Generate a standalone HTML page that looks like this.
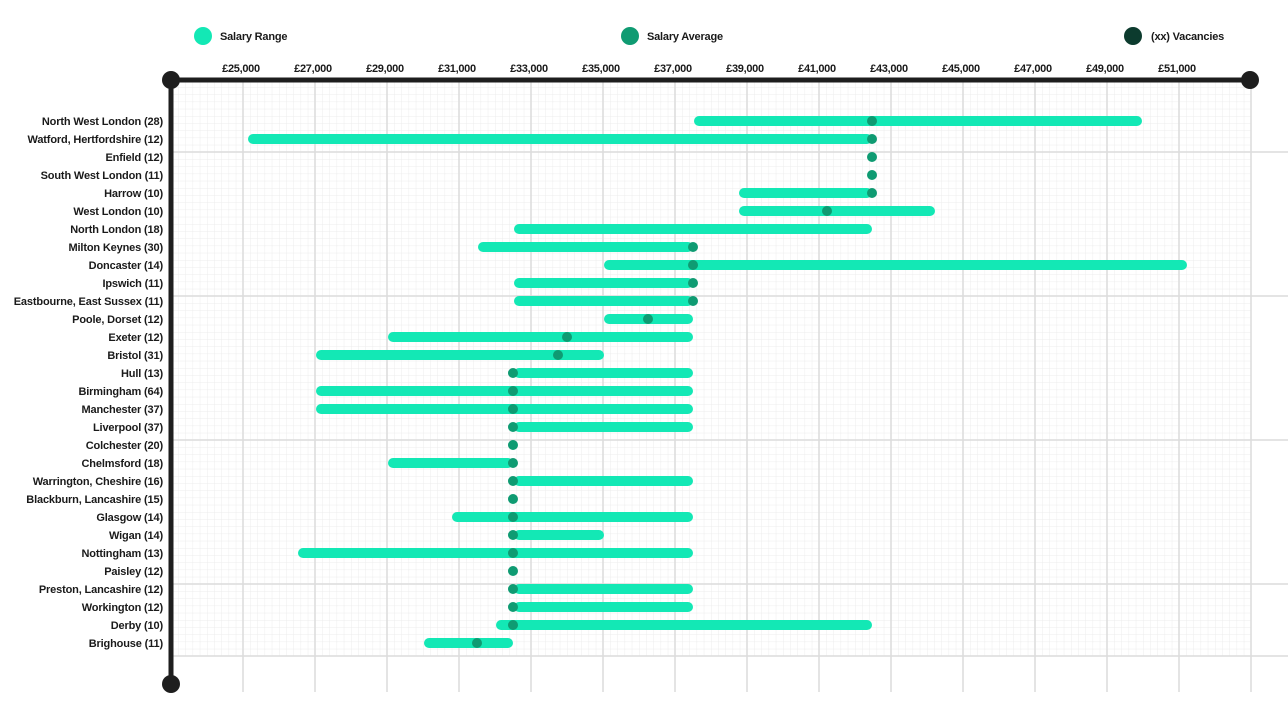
<!DOCTYPE html>
<html><head><meta charset="utf-8"><style>
html,body{margin:0;padding:0;background:#fff;}
svg{display:block;font-family:"Liberation Sans",sans-serif;}
.lab{font-size:11px;font-weight:bold;fill:#1a1a1a;text-anchor:end;letter-spacing:-0.15px;}
.tick{font-size:11px;font-weight:bold;fill:#1a1a1a;text-anchor:middle;letter-spacing:-0.3px;}
.leg{font-size:11px;font-weight:bold;fill:#1a1a1a;letter-spacing:-0.2px;}
.bar{stroke:#13e8b5;stroke-width:10;stroke-linecap:round;}
.avg{fill:#0f9b72;}
</style></head><body>
<svg width="1288" height="720" viewBox="0 0 1288 720">
<defs>
<pattern id="mg" x="171" y="80" width="7.2" height="7.2" patternUnits="userSpaceOnUse">
<path d="M0 0V7.2M0 0H7.2" stroke="#ececec" stroke-width="1" fill="none"/>
</pattern>
</defs>
<rect x="171" y="80" width="1080" height="576" fill="url(#mg)"/>
<g stroke="#dcdcdc" stroke-width="1.5">
<line x1="243" y1="80" x2="243" y2="692"/><line x1="315" y1="80" x2="315" y2="692"/><line x1="387" y1="80" x2="387" y2="692"/><line x1="459" y1="80" x2="459" y2="692"/><line x1="531" y1="80" x2="531" y2="692"/><line x1="603" y1="80" x2="603" y2="692"/><line x1="675" y1="80" x2="675" y2="692"/><line x1="747" y1="80" x2="747" y2="692"/><line x1="819" y1="80" x2="819" y2="692"/><line x1="891" y1="80" x2="891" y2="692"/><line x1="963" y1="80" x2="963" y2="692"/><line x1="1035" y1="80" x2="1035" y2="692"/><line x1="1107" y1="80" x2="1107" y2="692"/><line x1="1179" y1="80" x2="1179" y2="692"/><line x1="1251" y1="80" x2="1251" y2="692"/>
<line x1="171" y1="152" x2="1288" y2="152"/><line x1="171" y1="296" x2="1288" y2="296"/><line x1="171" y1="440" x2="1288" y2="440"/><line x1="171" y1="584" x2="1288" y2="584"/><line x1="171" y1="656" x2="1288" y2="656"/>
</g>
<line x1="171" y1="80" x2="1250" y2="80" stroke="#1e1e1e" stroke-width="5"/>
<line x1="171" y1="80" x2="171" y2="684" stroke="#1e1e1e" stroke-width="5"/>
<circle cx="171" cy="80" r="9" fill="#1e1e1e"/><circle cx="1250" cy="80" r="9" fill="#1e1e1e"/><circle cx="171" cy="684" r="9" fill="#1e1e1e"/>
<g class="tick">
<text x="241" y="72">£25,000</text><text x="313" y="72">£27,000</text><text x="385" y="72">£29,000</text><text x="457" y="72">£31,000</text><text x="529" y="72">£33,000</text><text x="601" y="72">£35,000</text><text x="673" y="72">£37,000</text><text x="745" y="72">£39,000</text><text x="817" y="72">£41,000</text><text x="889" y="72">£43,000</text><text x="961" y="72">£45,000</text><text x="1033" y="72">£47,000</text><text x="1105" y="72">£49,000</text><text x="1177" y="72">£51,000</text>
</g>
<circle cx="203" cy="36" r="9" fill="#13e8b5"/><text class="leg" x="220" y="40">Salary Range</text>
<circle cx="630" cy="36" r="9" fill="#0f9b72"/><text class="leg" x="647" y="40">Salary Average</text>
<circle cx="1133" cy="36" r="9" fill="#0c3b2e"/><text class="leg" x="1151" y="40">(xx) Vacancies</text>
<g class="lab">
<text x="163" y="125">North West London (28)</text>
<text x="163" y="143">Watford, Hertfordshire (12)</text>
<text x="163" y="161">Enfield (12)</text>
<text x="163" y="179">South West London (11)</text>
<text x="163" y="197">Harrow (10)</text>
<text x="163" y="215">West London (10)</text>
<text x="163" y="233">North London (18)</text>
<text x="163" y="251">Milton Keynes (30)</text>
<text x="163" y="269">Doncaster (14)</text>
<text x="163" y="287">Ipswich (11)</text>
<text x="163" y="305">Eastbourne, East Sussex (11)</text>
<text x="163" y="323">Poole, Dorset (12)</text>
<text x="163" y="341">Exeter (12)</text>
<text x="163" y="359">Bristol (31)</text>
<text x="163" y="377">Hull (13)</text>
<text x="163" y="395">Birmingham (64)</text>
<text x="163" y="413">Manchester (37)</text>
<text x="163" y="431">Liverpool (37)</text>
<text x="163" y="449">Colchester (20)</text>
<text x="163" y="467">Chelmsford (18)</text>
<text x="163" y="485">Warrington, Cheshire (16)</text>
<text x="163" y="503">Blackburn, Lancashire (15)</text>
<text x="163" y="521">Glasgow (14)</text>
<text x="163" y="539">Wigan (14)</text>
<text x="163" y="557">Nottingham (13)</text>
<text x="163" y="575">Paisley (12)</text>
<text x="163" y="593">Preston, Lancashire (12)</text>
<text x="163" y="611">Workington (12)</text>
<text x="163" y="629">Derby (10)</text>
<text x="163" y="647">Brighouse (11)</text>
</g>
<g class="bar">
<line x1="699" y1="121" x2="1137" y2="121"/>
<line x1="253" y1="139" x2="867" y2="139"/>
<line x1="744" y1="193" x2="867" y2="193"/>
<line x1="744" y1="211" x2="930" y2="211"/>
<line x1="519" y1="229" x2="867" y2="229"/>
<line x1="483" y1="247" x2="688" y2="247"/>
<line x1="609" y1="265" x2="1182" y2="265"/>
<line x1="519" y1="283" x2="688" y2="283"/>
<line x1="519" y1="301" x2="688" y2="301"/>
<line x1="609" y1="319" x2="688" y2="319"/>
<line x1="393" y1="337" x2="688" y2="337"/>
<line x1="321" y1="355" x2="599" y2="355"/>
<line x1="519" y1="373" x2="688" y2="373"/>
<line x1="321" y1="391" x2="688" y2="391"/>
<line x1="321" y1="409" x2="688" y2="409"/>
<line x1="519" y1="427" x2="688" y2="427"/>
<line x1="393" y1="463" x2="508" y2="463"/>
<line x1="519" y1="481" x2="688" y2="481"/>
<line x1="457" y1="517" x2="688" y2="517"/>
<line x1="519" y1="535" x2="599" y2="535"/>
<line x1="303" y1="553" x2="688" y2="553"/>
<line x1="519" y1="589" x2="688" y2="589"/>
<line x1="519" y1="607" x2="688" y2="607"/>
<line x1="501" y1="625" x2="867" y2="625"/>
<line x1="429" y1="643" x2="508" y2="643"/>
</g>
<g class="avg">
<circle cx="872" cy="121" r="5"/><circle cx="872" cy="139" r="5"/><circle cx="872" cy="157" r="5"/><circle cx="872" cy="175" r="5"/><circle cx="872" cy="193" r="5"/><circle cx="827" cy="211" r="5"/>
<circle cx="693" cy="247" r="5"/><circle cx="693" cy="265" r="5"/><circle cx="693" cy="283" r="5"/><circle cx="693" cy="301" r="5"/><circle cx="648" cy="319" r="5"/><circle cx="567" cy="337" r="5"/><circle cx="558" cy="355" r="5"/>
<circle cx="513" cy="373" r="5"/><circle cx="513" cy="391" r="5"/><circle cx="513" cy="409" r="5"/><circle cx="513" cy="427" r="5"/><circle cx="513" cy="445" r="5"/><circle cx="513" cy="463" r="5"/><circle cx="513" cy="481" r="5"/><circle cx="513" cy="499" r="5"/><circle cx="513" cy="517" r="5"/><circle cx="513" cy="535" r="5"/><circle cx="513" cy="553" r="5"/><circle cx="513" cy="571" r="5"/><circle cx="513" cy="589" r="5"/><circle cx="513" cy="607" r="5"/><circle cx="513" cy="625" r="5"/><circle cx="477" cy="643" r="5"/>
</g>
</svg>
</body></html>
